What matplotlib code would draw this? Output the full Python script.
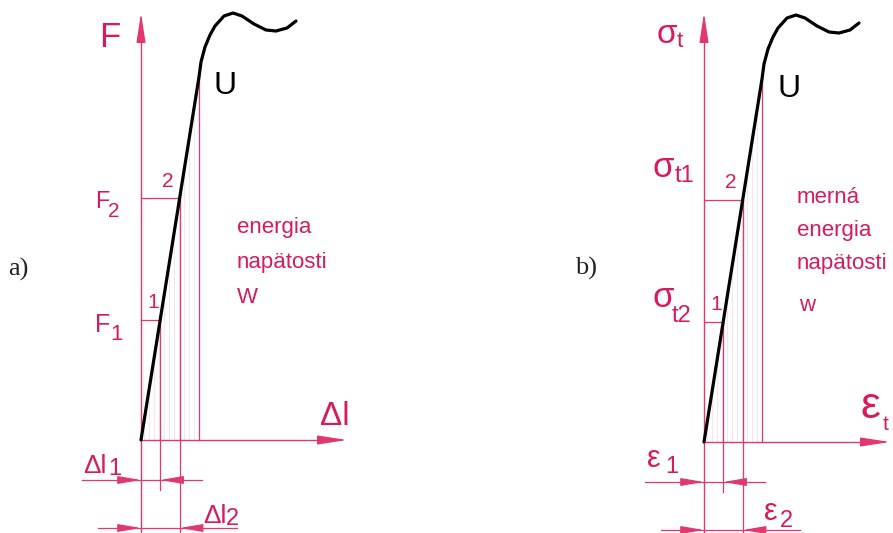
import numpy as np
import matplotlib
matplotlib.use("Agg")
import matplotlib.pyplot as plt

# tensile test curve, shared shape for both diagrams (units: drawing units)
strain = [0, 58, 60, 64, 69, 74, 83, 92, 101, 113, 125, 135, 146, 155]
stress = [0, 363, 378, 393, 405, 414, 424, 427, 424, 416, 410, 409, 412, 419]

level_1 = 120     # point 1
level_2 = 242     # point 2
level_U = 363     # point U (end of linear part)

labels_a = {"y": "F", "x": "Δl", "lo": ("F", "1"), "hi": ("F", "2"),
            "d1": ("Δl", "1"), "d2": ("Δl", "2"),
            "text": ["energia", "napätosti", "W"]}
labels_b = {"y": ("σ", "t"), "x": ("ε", "t"), "lo": ("σ", "t2"), "hi": ("σ", "t1"),
            "d1": ("ε", "1"), "d2": ("ε", "2"),
            "text": ["merná", "energia", "napätosti", "w"]}

PINK = "#e2376f"
TXT = "#d81b5e"
HATCH = "#f6d9e2"
SANS = "Liberation Sans"

fig = plt.figure(figsize=(8.93, 5.33), dpi=100)
fig.patch.set_facecolor("white")

# each panel: 1 data unit = 1 pixel, origin at the diagram corner
axL = fig.add_axes([0, 0, 600 / 893, 1])
axL.set_xlim(-141, 459)
axL.set_ylim(-93, 440)
axR = fig.add_axes([600 / 893, 0, 293 / 893, 1])
axR.set_xlim(-104, 189)
axR.set_ylim(-91, 442)
for ax in (axL, axR):
    ax.axis("off")


def x_at(level):
    return float(np.interp(level, stress[:2], strain[:2]))


def arrow(ax, tail, tip, hl=1.2, hw=0.2, ms=14):
    ax.annotate("", xy=tip, xytext=tail,
                arrowprops=dict(arrowstyle=f"-|>,head_length={hl},head_width={hw}",
                                color=PINK, lw=0.9, mutation_scale=ms,
                                shrinkA=0, shrinkB=0))


def panel(ax, x_tip, y_tip):
    x1, x2, xu = x_at(level_1), x_at(level_2), x_at(level_U)
    bottom = ax.get_ylim()[0]

    # faint hatching under the linear part
    for hx in np.arange(3, xu, 5):
        top = float(np.interp(hx, strain, stress))
        ax.plot([hx, hx], [0, top], color=HATCH, lw=0.5, zorder=1)

    # axes with arrows
    ax.plot([0, 0], [bottom, y_tip - 20], color=PINK, lw=1.0)
    arrow(ax, (0, y_tip - 26), (0, y_tip), hl=1.3, hw=0.2)
    ax.plot([0, x_tip - 20], [0, 0], color=PINK, lw=1.0)
    arrow(ax, (x_tip - 26, 0), (x_tip, 0), hl=1.3, hw=0.2)

    # levels 1 and 2, extension lines
    ax.plot([0, x1], [level_1, level_1], color=PINK, lw=0.9)
    ax.plot([0, x2], [level_2, level_2], color=PINK, lw=0.9)
    ax.plot([x1, x1], [level_1, -50], color=PINK, lw=0.9)
    ax.plot([x2, x2], [level_2, bottom], color=PINK, lw=0.9)
    ax.plot([xu, xu], [level_U, 0], color=PINK, lw=0.9)

    # dimension lines
    for y, xa, xb, xr in [(-40, -59, 61, x1), (-88, -43, 96, x2)]:
        ax.plot([xa, xb], [y, y], color=PINK, lw=0.9)
        arrow(ax, (-20, y), (0, y), hl=1.0, hw=0.17)
        arrow(ax, (xr + 20, y), (xr, y), hl=1.0, hw=0.17)

    # curve
    ax.plot(strain, stress, color="black", lw=2.3, solid_capstyle="round",
            solid_joinstyle="round", zorder=5)


panel(axL, 206, 427)
panel(axR, 186, 429)


def t(ax, x, y, s, size, color=TXT, ha="left", va="baseline", **kw):
    ax.text(x, y, s, fontsize=size, color=color, ha=ha, va=va, family=SANS, **kw)


# panel a) labels
t(axL, -42, 393, labels_a["y"], 25)
t(axL, 179, 15, labels_a["x"], 24)
t(axL, -46, 232, labels_a["hi"][0], 17)
t(axL, -33, 223, labels_a["hi"][1], 15)
t(axL, -46, 108, labels_a["lo"][0], 18)
t(axL, -31, 100, labels_a["lo"][1], 16)
t(axL, 21, 253, "2", 15)
t(axL, 6, 132, "1", 15)
t(axL, 72, 346, "U", 23, color="black")
for i, s in enumerate(labels_a["text"]):
    t(axL, 96, 207 - 35 * i, s, 16)
t(axL, -58, -33, labels_a["d1"][0], 19)
t(axL, -33, -35, labels_a["d1"][1], 17)
t(axL, 62, -83, labels_a["d2"][0], 19)
t(axL, 85, -85, labels_a["d2"][1], 17)

# panel b) labels
t(axR, -47, 399, labels_b["y"][0], 24)
t(axR, -27, 395, labels_b["y"][1], 16)
t(axR, -52, 265, labels_b["hi"][0], 25)
t(axR, -29, 260, labels_b["hi"][1], 17)
t(axR, -52, 135, labels_b["lo"][0], 25)
t(axR, -32, 120, labels_b["lo"][1], 17)
t(axR, 21, 254, "2", 15)
t(axR, 6, 132, "1", 15)
t(axR, 73, 345, "U", 23, color="black")
for i, s in enumerate(labels_b["text"][:3]):
    t(axR, 93, 239 - 33 * i, s, 16)
t(axR, 95, 131, labels_b["text"][3], 16)
t(axR, 156, 24, labels_b["x"][0], 32)
t(axR, 179, 12, labels_b["x"][1], 15)
t(axR, -57, -25, labels_b["d1"][0], 22)
t(axR, -39, -31, labels_b["d1"][1], 17)
t(axR, 60, -78, labels_b["d2"][0], 22)
t(axR, 76, -85, labels_b["d2"][1], 17)

fig.text(8 / 893, 1 - 276 / 533, "a)", fontsize=19, family="Liberation Serif",
         color="#222222")
fig.text(575 / 893, 1 - 275 / 533, "b)", fontsize=19, family="Liberation Serif",
         color="#222222")

fig.savefig("out.png", dpi=100, facecolor="white")
